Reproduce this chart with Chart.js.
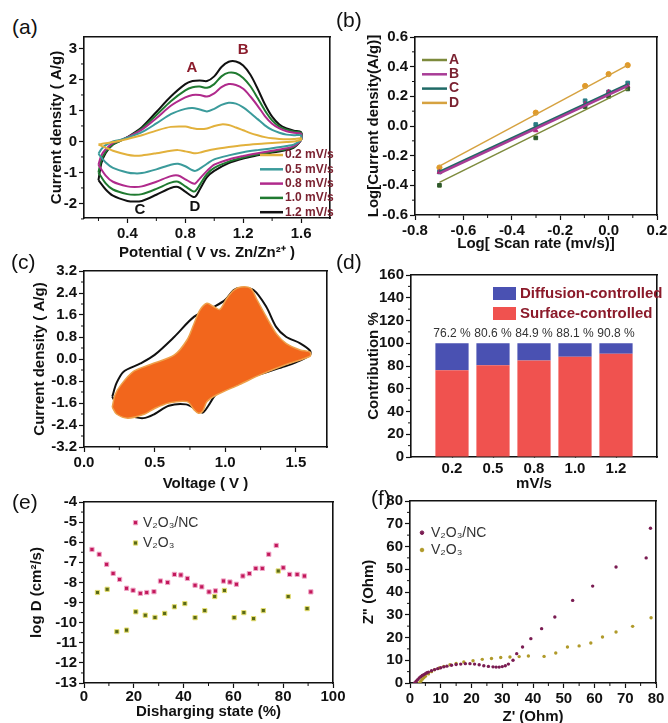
<!DOCTYPE html>
<html>
<head>
<meta charset="utf-8">
<script src="https://cdn.jsdelivr.net/npm/chart.js@4.4.0/dist/chart.umd.min.js"></script>
<style>
  body { margin: 0; background: #fff; }
  #page { position: relative; width: 668px; height: 723px; overflow: hidden; font-family: "Liberation Sans", Arial, sans-serif; }
  canvas { position: absolute; }
  .tag { position: absolute; font-size: 21px; color: #111; }
</style>
</head>
<body>
<div id="page">
  <canvas id="chA"></canvas>
  <canvas id="chB"></canvas>
  <canvas id="chC"></canvas>
  <canvas id="chD"></canvas>
  <canvas id="chE"></canvas>
  <canvas id="chF"></canvas>
  <div class="tag" style="left:12px;top:15px">(a)</div>
  <div class="tag" style="left:336px;top:8px">(b)</div>
  <div class="tag" style="left:11px;top:250px">(c)</div>
  <div class="tag" style="left:336px;top:250px">(d)</div>
  <div class="tag" style="left:12px;top:490px">(e)</div>
  <div class="tag" style="left:371px;top:486px">(f)</div>
</div>
<script>
// ---------- data ----------
// (a) CV curves, anodic sweep then cathodic sweep
const cvLabels = ['0.2 mV/s', '0.5 mV/s', '0.8 mV/s', '1.0 mV/s', '1.2 mV/s'];
const cvColors = ['#e2b13c', '#3b9b9b', '#b02a8c', '#1f7a30', '#111111'];
const upV = [0.2, 0.22, 0.25, 0.3, 0.35, 0.4, 0.5, 0.6, 0.7, 0.8, 0.85, 0.9, 0.95, 1.0, 1.05, 1.1, 1.15, 1.2, 1.25, 1.3, 1.35, 1.4, 1.45, 1.5, 1.55, 1.6];
const downV = [1.6, 1.55, 1.5, 1.4, 1.3, 1.2, 1.1, 1.0, 0.95, 0.9, 0.87, 0.85, 0.8, 0.75, 0.7, 0.6, 0.5, 0.45, 0.4, 0.3, 0.25, 0.2];
const up02 = [-0.1, -0.08, -0.06, -0.02, 0.02, 0.08, 0.2, 0.35, 0.47, 0.48, 0.43, 0.4, 0.42, 0.5, 0.55, 0.53, 0.45, 0.36, 0.27, 0.2, 0.14, 0.1, 0.08, 0.07, 0.08, 0.1];
const down02 = [0.05, 0.0, -0.02, -0.05, -0.08, -0.12, -0.18, -0.25, -0.3, -0.36, -0.38, -0.37, -0.32, -0.28, -0.3, -0.38, -0.45, -0.46, -0.43, -0.3, -0.2, -0.1];
const up05 = [-0.4, -0.25, -0.12, 0.0, 0.05, 0.12, 0.3, 0.58, 0.88, 1.05, 1.08, 1.03, 0.97, 1.05, 1.18, 1.25, 1.22, 1.1, 0.92, 0.72, 0.52, 0.37, 0.28, 0.22, 0.2, 0.2];
const down05 = [0.05, -0.1, -0.15, -0.22, -0.28, -0.35, -0.45, -0.58, -0.72, -0.88, -0.95, -0.93, -0.8, -0.72, -0.75, -0.9, -1.02, -1.03, -1.0, -0.85, -0.68, -0.4];
const up08 = [-0.75, -0.45, -0.25, -0.05, 0.04, 0.13, 0.38, 0.75, 1.15, 1.42, 1.5, 1.5, 1.45, 1.55, 1.75, 1.85, 1.82, 1.7, 1.45, 1.15, 0.82, 0.57, 0.42, 0.33, 0.28, 0.25];
const down08 = [0.05, -0.15, -0.22, -0.3, -0.38, -0.47, -0.58, -0.75, -0.95, -1.2, -1.35, -1.35, -1.22, -1.1, -1.12, -1.3, -1.45, -1.47, -1.45, -1.3, -1.1, -0.75];
const up10 = [-1.0, -0.6, -0.33, -0.1, 0.02, 0.13, 0.42, 0.85, 1.3, 1.65, 1.75, 1.77, 1.73, 1.85, 2.1, 2.22, 2.2, 2.05, 1.78, 1.4, 1.0, 0.68, 0.48, 0.38, 0.32, 0.28];
const down10 = [0.05, -0.18, -0.25, -0.33, -0.42, -0.52, -0.65, -0.85, -1.05, -1.4, -1.6, -1.6, -1.45, -1.3, -1.33, -1.53, -1.7, -1.72, -1.7, -1.55, -1.35, -1.0];
const up12 = [-1.25, -0.7, -0.37, -0.1, 0.02, 0.14, 0.46, 0.95, 1.45, 1.85, 1.95, 1.97, 1.95, 2.1, 2.4, 2.57, 2.58, 2.45, 2.15, 1.7, 1.2, 0.8, 0.55, 0.42, 0.35, 0.3];
const down12 = [0.05, -0.2, -0.28, -0.36, -0.45, -0.55, -0.7, -0.95, -1.15, -1.55, -1.78, -1.78, -1.62, -1.47, -1.5, -1.72, -1.92, -1.94, -1.92, -1.75, -1.55, -1.25];
const peakNames = ['A', 'B', 'C', 'D'];
const peakV = [0.845, 1.2, 0.486, 0.866];
const peakI = [2.38, 2.95, -2.2, -2.1];

// (b) log(peak current) vs log(scan rate)
const logRate = [-0.699, -0.301, -0.097, 0, 0.079];
const peakA = [-0.40, -0.08, 0.13, 0.20, 0.25];
const peakB = [-0.31, -0.03, 0.15, 0.23, 0.27];
const peakC = [-0.31, 0.01, 0.17, 0.23, 0.29];
const peakD = [-0.28, 0.09, 0.27, 0.35, 0.41];
const fitEnds = [-0.699, 0.079];
const fitA = [-0.38, 0.25];
const fitB = [-0.32, 0.27];
const fitC = [-0.31, 0.28];
const fitD = [-0.27, 0.41];

// (c) total current (1.2 mV/s) and capacitive part
const totUpV = [0.2, 0.23, 0.28, 0.4, 0.5, 0.64, 0.78, 0.92, 1.0, 1.06, 1.11, 1.2, 1.29, 1.36, 1.43, 1.53, 1.6];
const totUpI = [-1.37, -0.88, -0.46, -0.16, 0.15, 0.81, 1.54, 1.9, 2.15, 2.51, 2.58, 2.51, 1.9, 1.17, 0.81, 0.57, 0.3];
const totDownV = [1.6, 1.5, 1.4, 1.25, 1.1, 1.0, 0.93, 0.88, 0.84, 0.8, 0.72, 0.6, 0.5, 0.42, 0.32, 0.25, 0.2];
const totDownI = [0.15, -0.12, -0.3, -0.55, -0.75, -1.0, -1.3, -1.7, -1.95, -1.85, -1.65, -1.7, -2.0, -2.15, -2.05, -1.8, -1.37];
const capUpV = [0.2, 0.22, 0.26, 0.35, 0.47, 0.64, 0.73, 0.78, 0.82, 0.87, 0.92, 0.96, 1.01, 1.06, 1.11, 1.18, 1.22, 1.29, 1.36, 1.43, 1.53, 1.6];
const capUpI = [-1.75, -1.3, -0.95, -0.45, -0.2, 0.15, 0.7, 1.3, 1.78, 2.03, 1.9, 1.8, 2.2, 2.5, 2.62, 2.57, 2.2, 1.54, 0.93, 0.57, 0.33, 0.25];
const capDownV = [1.6, 1.43, 1.25, 1.1, 0.94, 0.87, 0.84, 0.81, 0.78, 0.73, 0.6, 0.5, 0.43, 0.31, 0.23, 0.2];
const capDownI = [0.1, -0.2, -0.57, -0.93, -1.3, -1.55, -1.9, -1.97, -1.85, -1.55, -1.6, -1.8, -2.0, -2.15, -2.0, -1.75];

// (d) contribution
const rates = ['0.2', '0.5', '0.8', '1.0', '1.2'];
const surface = [76.2, 80.6, 84.9, 88.1, 90.8];
const diffusion = [23.8, 19.4, 15.1, 11.9, 9.2];

// (e) diffusion coefficient
const ncState = [3.2, 6.1, 9.1, 11.7, 14.3, 17.1, 19.7, 22.6, 25.2, 28.1, 30.7, 33.6, 36.3, 38.9, 41.5, 44.6, 47.3, 50.2, 52.8, 56.0, 58.6, 61.2, 63.8, 66.4, 69.0, 71.6, 74.2, 77.2, 80.0, 82.6, 85.6, 88.5, 91.1];
const ncLogD = [-6.36, -6.6, -7.1, -7.55, -7.85, -8.29, -8.39, -8.54, -8.5, -8.46, -7.93, -8.0, -7.6, -7.63, -7.8, -8.14, -8.22, -8.47, -8.42, -7.93, -7.98, -8.09, -7.68, -7.56, -7.3, -7.3, -6.6, -6.16, -7.27, -7.6, -7.6, -7.68, -8.47];
const voState = [5.4, 9.3, 13.2, 17.1, 20.8, 24.6, 28.5, 32.4, 36.3, 40.5, 44.6, 48.5, 52.5, 56.4, 60.3, 64.2, 68.1, 72.0, 78.0, 82.0, 89.6];
const voLogD = [-8.5, -8.34, -10.45, -10.37, -9.46, -9.63, -9.74, -9.54, -9.21, -9.05, -9.75, -9.4, -8.7, -8.4, -9.75, -9.5, -9.8, -9.4, -7.43, -8.7, -9.3];

// (f) Nyquist plots
const ncRe = [1.5, 2, 2.5, 3, 3.5, 4, 4.5, 5, 5.5, 6, 7, 8, 9, 10, 11, 12, 13.5, 15, 16.5, 18, 19.5, 21, 22.5, 24, 25.5, 27, 28, 29, 30, 31, 32, 33.5, 34.7, 36.6, 39.3, 42.8, 47.1, 52.9, 59.4, 67, 76.8, 78.2];
const ncIm = [0, 0.8, 1.5, 2.2, 2.8, 3.3, 3.7, 4.1, 4.5, 4.8, 5.4, 5.9, 6.3, 6.7, 7.1, 7.4, 7.8, 8.1, 8.3, 8.5, 8.5, 8.3, 8.0, 7.6, 7.3, 7.1, 7.0, 7.0, 7.2, 7.6, 8.3, 10, 12.9, 15.8, 19.5, 23.9, 29, 36.3, 42.6, 51, 55, 68];
const voRe = [3, 3.5, 4, 4.5, 5, 6, 7, 8, 9.5, 11, 13, 15, 17.5, 20.5, 23.5, 26.5, 29.5, 32.5, 35.5, 38.5, 43.6, 47.4, 51.2, 55, 58.8, 62.6, 67, 72.4, 78.4];
const voIm = [0, 0.8, 1.6, 2.3, 3, 4, 5, 5.8, 6.6, 7.3, 8, 8.6, 9.2, 9.8, 10.4, 10.8, 11.2, 11.4, 11.6, 11.9, 11.7, 13.2, 15.8, 16.3, 17.6, 20.2, 22.4, 24.9, 28.7];

// ---------- helpers ----------
const FONT = "'Liberation Sans', Arial, sans-serif";
Chart.defaults.font.family = FONT;
Chart.defaults.color = '#111';
Chart.defaults.animation = false;

const toXY = (xs, ys) => xs.map((x, i) => ({x: x, y: ys[i]}));
const range = (a, b, s) => { const out = []; for (let v = a; v <= b + 1e-9; v += s) out.push(Math.round(v * 1000) / 1000); return out; };

// box: plot area in page px, yt: y title centre x, xt: x title centre y
const place = (id, box) => {
  const c = document.getElementById(id);
  const left = box.yt - 9, top = box.t - 16, right = box.r + 24, bottom = box.xt + 9;
  c.style.left = left + 'px';
  c.style.top = top + 'px';
  c.width = right - left;
  c.height = bottom - top;
  return {yw: box.l - left, xh: bottom - box.b};
};

const edge = {display: true, color: '#111', width: 1.6};

const axis = (o) => ({
  type: 'linear',
  min: o.min,
  max: o.max,
  offset: false,
  afterFit: s => { if (s.isHorizontal()) s.height = o.size; else s.width = o.size; },
  afterBuildTicks: s => { s.ticks = o.ticks.map(v => ({value: v})); },
  grid: {drawOnChartArea: false, offset: false, tickLength: o.tickLen === undefined ? 5 : o.tickLen, tickWidth: 1.2, color: '#111'},
  border: edge,
  ticks: {font: {size: 15, weight: 'bold'}, padding: o.pad === undefined ? 2 : o.pad, color: '#111', autoSkip: false, maxRotation: 0, callback: o.fmt},
  title: {display: true, text: o.title, font: {size: 15, weight: 'bold'}, padding: 0, color: '#111'}
});

// top and right edges of the box, no ticks
const side = (pos, min, max) => ({
  type: 'linear', position: pos, min: min, max: max,
  afterFit: s => { if (s.isHorizontal()) s.height = 0; else s.width = 0; },
  grid: {display: false, drawTicks: false},
  ticks: {display: false},
  border: edge
});

const boxScales = (x, y) => ({x: x, y: y, x2: side('top', x.min, x.max), y2: side('right', y.min, y.max)});

// minor ticks
const minor = {
  id: 'minor',
  afterDraw(chart, args, o) {
    const {ctx, chartArea: a, scales} = chart;
    ctx.save();
    ctx.strokeStyle = '#111';
    ctx.lineWidth = 1;
    ctx.beginPath();
    (o.xMinor || []).forEach(v => {
      const x = scales.x.getPixelForValue(v);
      ctx.moveTo(x, a.bottom); ctx.lineTo(x, a.bottom + 3);
    });
    (o.yMinor || []).forEach(v => {
      const y = scales.y.getPixelForValue(v);
      ctx.moveTo(a.left, y); ctx.lineTo(a.left - 3, y);
    });
    ctx.stroke();
    ctx.restore();
  }
};

// hand placed legend inside the plot area
const keys = {
  id: 'keys',
  afterDraw(chart, args, o) {
    if (!o.items) return;
    const {ctx, chartArea: a} = chart;
    ctx.save();
    ctx.font = o.font;
    ctx.textBaseline = 'middle';
    o.items.forEach((it, i) => {
      const x = a.left + o.x, y = a.top + o.y + i * o.gap;
      if (o.kind === 'line') {
        ctx.strokeStyle = it.color; ctx.lineWidth = 2.5;
        ctx.beginPath(); ctx.moveTo(x, y); ctx.lineTo(x + o.w, y); ctx.stroke();
      } else if (o.kind === 'box') {
        ctx.fillStyle = it.color; ctx.fillRect(x, y - o.h / 2, o.w, o.h);
      } else {
        ctx.fillStyle = it.color; ctx.strokeStyle = it.edge || it.color; ctx.lineWidth = 1;
        Chart.helpers.drawPoint(ctx, {pointStyle: it.style || 'circle', radius: it.r || 3, rotation: 0, borderWidth: 1}, x + o.w / 2, y);
      }
      ctx.fillStyle = o.textColor;
      ctx.fillText(it.text, x + o.w + o.sp, y);
    });
    ctx.restore();
  }
};

// text placed at data coordinates
const notes = {
  id: 'notes',
  afterDraw(chart, args, o) {
    if (!o.items) return;
    const {ctx, scales} = chart;
    ctx.save();
    ctx.font = o.font;
    ctx.textAlign = 'center';
    ctx.textBaseline = 'middle';
    o.items.forEach(it => {
      ctx.fillStyle = it.color;
      ctx.fillText(it.text, scales.x.getPixelForValue(it.x), scales.y.getPixelForValue(it.y));
    });
    ctx.restore();
  }
};

Chart.register(minor, keys, notes);

const basePlugins = (extra) => Object.assign({legend: {display: false}, tooltip: {enabled: false}}, extra);

// ---------- (a) ----------
const boxA = {l: 84, t: 37, r: 330, b: 218, yt: 57, xt: 253};
const fa = place('chA', boxA);
const cvUp = [up02, up05, up08, up10, up12];
const cvDown = [down02, down05, down08, down10, down12];
new Chart(document.getElementById('chA'), {
  type: 'scatter',
  data: {
    datasets: cvLabels.map((lab, i) => ({
      label: lab,
      data: toXY(upV, cvUp[i]).concat(toXY(downV, cvDown[i])),
      showLine: true, borderColor: cvColors[i], borderWidth: 2, pointRadius: 0, tension: 0.3
    }))
  },
  options: {
    responsive: false,
    layout: {padding: {top: 16, right: 24}},
    scales: boxScales(
      axis({min: 0.1, max: 1.8, size: fa.xh, ticks: [0.4, 0.8, 1.2, 1.6], fmt: v => v.toFixed(1), title: 'Potential ( V vs. Zn/Zn\u00B2\u207A )'}),
      axis({min: -2.47, max: 3.37, size: fa.yw, ticks: [-2, -1, 0, 1, 2, 3], fmt: v => String(v), title: 'Current density ( A/g)'})
    ),
    plugins: basePlugins({
      minor: {xMinor: [0.2, 0.6, 1.0, 1.4], yMinor: [-2.5, -1.5, -0.5, 0.5, 1.5, 2.5]},
      keys: {kind: 'line', x: 176, y: 118, gap: 14.3, w: 23, sp: 2, font: 'bold 12px ' + FONT, textColor: '#7b2231',
        items: cvLabels.map((t, i) => ({text: t, color: cvColors[i]}))},
      notes: {font: 'bold 15px ' + FONT, items: peakNames.map((t, i) => ({text: t, x: peakV[i], y: peakI[i], color: i < 2 ? '#8b1c2c' : '#111'}))}
    })
  }
});

// ---------- (b) ----------
const boxB = {l: 415, t: 37, r: 657, b: 215, yt: 374, xt: 244};
const fb = place('chB', boxB);
const peakSets = [
  {label: 'A', pts: peakA, fit: fitA, line: '#7d8a3c', mark: '#2f5a2a', style: 'rect'},
  {label: 'B', pts: peakB, fit: fitB, line: '#a83c96', mark: '#b0247a', style: 'triangle'},
  {label: 'C', pts: peakC, fit: fitC, line: '#1f6a66', mark: '#2a7c86', style: 'rect'},
  {label: 'D', pts: peakD, fit: fitD, line: '#d6a240', mark: '#e09a2a', style: 'circle'}
];
new Chart(document.getElementById('chB'), {
  type: 'scatter',
  data: {
    datasets: peakSets.map(p => ({
      data: toXY(fitEnds, p.fit), showLine: true, borderColor: p.line, borderWidth: p.label === 'B' || p.label === 'C' ? 2.5 : 1.5, pointRadius: 0
    })).concat(peakSets.map(p => ({
      data: toXY(logRate, p.pts), pointStyle: p.style, pointRadius: 2.6, backgroundColor: p.mark, borderColor: p.mark, borderWidth: 1
    })))
  },
  options: {
    responsive: false,
    layout: {padding: {top: 16, right: 24}},
    scales: boxScales(
      axis({min: -0.8, max: 0.2, size: fb.xh, ticks: [-0.8, -0.6, -0.4, -0.2, 0, 0.2], fmt: v => v.toFixed(1), title: 'Log[ Scan rate (mv/s)]'}),
      axis({min: -0.6, max: 0.6, size: fb.yw, ticks: [-0.6, -0.4, -0.2, 0, 0.2, 0.4, 0.6], fmt: v => v.toFixed(1), title: 'Log[Current density(A/g)]'})
    ),
    plugins: basePlugins({
      minor: {xMinor: [-0.7, -0.5, -0.3, -0.1, 0.1], yMinor: [-0.5, -0.3, -0.1, 0.1, 0.3, 0.5]},
      keys: {kind: 'line', x: 7, y: 23, gap: 14.3, w: 25, sp: 2, font: 'bold 14px ' + FONT, textColor: '#7b2231',
        items: peakSets.map(p => ({text: p.label, color: p.line}))}
    })
  }
});

// ---------- (c) ----------
const boxC = {l: 84, t: 271, r: 327, b: 447, yt: 40, xt: 484};
const fc = place('chC', boxC);
new Chart(document.getElementById('chC'), {
  type: 'scatter',
  data: {
    datasets: [
      {data: toXY(capUpV, capUpI).concat(toXY(capDownV, capDownI)), showLine: true, fill: 'shape',
        backgroundColor: '#f2661c', borderColor: '#eea04a', borderWidth: 1.5, pointRadius: 0, tension: 0.3},
      {data: toXY(totUpV, totUpI).concat(toXY(totDownV, totDownI)), showLine: true,
        borderColor: '#111', borderWidth: 2, pointRadius: 0, tension: 0.3}
    ]
  },
  options: {
    responsive: false,
    layout: {padding: {top: 16, right: 24}},
    scales: boxScales(
      axis({min: 0, max: 1.72, size: fc.xh, ticks: [0, 0.5, 1.0, 1.5], fmt: v => v.toFixed(1), title: 'Voltage ( V )'}),
      axis({min: -3.2, max: 3.2, size: fc.yw, ticks: [-3.2, -2.4, -1.6, -0.8, 0, 0.8, 1.6, 2.4, 3.2], fmt: v => v.toFixed(1), title: 'Current density ( A/g)'})
    ),
    plugins: basePlugins({
      minor: {xMinor: [0.25, 0.75, 1.25], yMinor: [-2.8, -2.0, -1.2, -0.4, 0.4, 1.2, 2.0, 2.8]}
    })
  }
});

// ---------- (d) ----------
const boxD = {l: 411, t: 275, r: 657, b: 457, yt: 374, xt: 484};
const fd = place('chD', boxD);
const barPos = rates.map((r, i) => i + 1);
new Chart(document.getElementById('chD'), {
  type: 'bar',
  data: {
    datasets: [
      {label: 'Surface-controlled', data: toXY(barPos, surface), backgroundColor: '#f0524f', barPercentage: 0.81, categoryPercentage: 1},
      {label: 'Diffusion-controlled', data: toXY(barPos, diffusion), backgroundColor: '#4a51b2', barPercentage: 0.81, categoryPercentage: 1}
    ]
  },
  options: {
    responsive: false,
    layout: {padding: {top: 16, right: 24}},
    scales: boxScales(
      Object.assign(axis({min: 0, max: 6, size: fd.xh, tickLen: 0, pad: 3, ticks: barPos, fmt: v => rates[v - 1], title: 'mV/s'}), {stacked: true}),
      Object.assign(axis({min: 0, max: 160, size: fd.yw, ticks: range(0, 160, 20), fmt: v => String(v), title: 'Contribution %'}), {stacked: true})
    ),
    plugins: basePlugins({
      minor: {yMinor: range(10, 150, 20)},
      keys: {kind: 'box', x: 82, y: 18.5, gap: 20, w: 23, h: 13, sp: 4, font: 'bold 15px ' + FONT, textColor: '#8b1a2a',
        items: [{text: 'Diffusion-controlled', color: '#4a51b2'}, {text: 'Surface-controlled', color: '#f0524f'}]},
      notes: {font: '12px ' + FONT, items: surface.map((s, i) => ({text: s.toFixed(1) + ' %', x: barPos[i], y: 108, color: '#333'}))}
    })
  }
});

// ---------- (e) ----------
const boxE = {l: 84, t: 502, r: 333, b: 683, yt: 37, xt: 712};
const fe = place('chE', boxE);
new Chart(document.getElementById('chE'), {
  type: 'scatter',
  data: {
    datasets: [
      {data: toXY(ncState, ncLogD), pointStyle: 'rect', pointRadius: 3, backgroundColor: '#c2185b', borderColor: '#f0a8c8', borderWidth: 1},
      {data: toXY(voState, voLogD), pointStyle: 'rect', pointRadius: 3, backgroundColor: '#5a6a18', borderColor: '#e8e070', borderWidth: 1}
    ]
  },
  options: {
    responsive: false,
    layout: {padding: {top: 16, right: 24}},
    scales: boxScales(
      axis({min: 0, max: 100, size: fe.xh, pad: 0, ticks: range(0, 100, 20), fmt: v => String(v), title: 'Disharging state (%)'}),
      axis({min: -13, max: -4, size: fe.yw, ticks: range(-13, -4, 1), fmt: v => String(v), title: 'log D (cm\u00B2/s)'})
    ),
    plugins: basePlugins({
      minor: {xMinor: range(10, 90, 20), yMinor: range(-12.5, -4.5, 1)},
      keys: {kind: 'point', x: 49, y: 20.7, gap: 20.3, w: 5, sp: 5, font: '14px ' + FONT, textColor: '#333',
        items: [{text: 'V\u2082O\u2083/NC', color: '#c2185b', edge: '#f0a8c8', style: 'rect'}, {text: 'V\u2082O\u2083', color: '#5a6a18', edge: '#e8e070', style: 'rect'}]}
    })
  }
});

// ---------- (f) ----------
const boxF = {l: 410, t: 501, r: 656, b: 683, yt: 369, xt: 717};
const ff = place('chF', boxF);
new Chart(document.getElementById('chF'), {
  type: 'scatter',
  data: {
    datasets: [
      {data: toXY(ncRe, ncIm), pointRadius: 1.7, backgroundColor: '#7a1c52', borderColor: '#7a1c52', borderWidth: 0},
      {data: toXY(voRe, voIm), pointRadius: 1.7, backgroundColor: '#b09a2a', borderColor: '#b09a2a', borderWidth: 0}
    ]
  },
  options: {
    responsive: false,
    layout: {padding: {top: 16, right: 24}},
    scales: boxScales(
      axis({min: 0, max: 80, size: ff.xh, ticks: range(0, 80, 10), fmt: v => String(v), title: "Z' (Ohm)"}),
      axis({min: 0, max: 80, size: ff.yw, ticks: range(0, 80, 10), fmt: v => String(v), title: 'Z" (Ohm)'})
    ),
    plugins: basePlugins({
      minor: {xMinor: range(5, 75, 10), yMinor: range(5, 75, 10)},
      keys: {kind: 'point', x: 10, y: 31.7, gap: 17.3, w: 4, sp: 7, font: '14px ' + FONT, textColor: '#333',
        items: [{text: 'V\u2082O\u2083/NC', color: '#7a1c52', r: 1.8}, {text: 'V\u2082O\u2083', color: '#b09a2a', r: 1.8}]}
    })
  }
});
</script>
</body>
</html>
